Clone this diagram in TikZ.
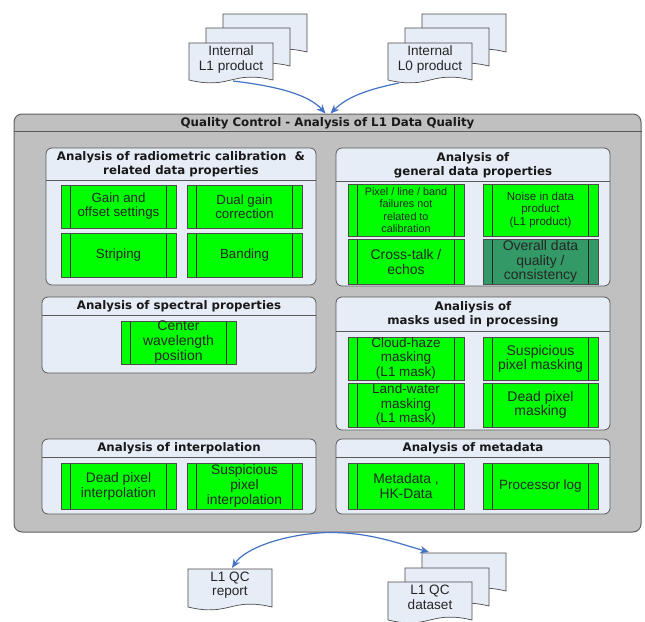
\documentclass[tikz,border=0pt]{standalone}
\usepackage{fontspec}
\setmainfont{Liberation Sans}
\newfontfamily\titlefont{DejaVu Sans}
\usetikzlibrary{arrows.meta}
\definecolor{qcgray}{RGB}{192,192,192}
\definecolor{paleblue}{RGB}{231,237,247}
\definecolor{qcgreen}{RGB}{0,255,0}
\definecolor{qcdark}{RGB}{51,153,102}
\definecolor{arrowblue}{RGB}{68,114,196}
\newcommand\boxsize[2]{\fontsize{#1}{#2}\selectfont}
\tikzset{
  qcframe/.style  = {draw=black!62, fill=qcgray, line width=1pt, rounded corners=8pt,
                     minimum width=627pt, minimum height=418pt, inner sep=0pt},
  panel/.style    = {draw=black!65, fill=paleblue, line width=0.8pt, rounded corners=6pt,
                     minimum width=274pt, inner sep=0pt},
  panelline/.style= {draw=black!65, line width=0.8pt},
  paneltitle/.style = {align=center, inner sep=0pt, text=black!90,
                       font=\titlefont\bfseries\boxsize{11.8}{14}},
  qcbox/.style    = {draw=black!70, fill=qcgreen, line width=0.7pt, inner sep=0pt,
                     minimum width=115pt, minimum height=43pt, align=center, text=black!85,
                     font=\boxsize{13.3}{14},
                     path picture={\draw [black!85, line width=0.7pt]
                       ([xshift=9.5pt]path picture bounding box.north west) -- ([xshift=9.5pt]path picture bounding box.south west)
                       ([xshift=-9.5pt]path picture bounding box.north east) -- ([xshift=-9.5pt]path picture bounding box.south east);}},
  docpage/.style  = {draw=black!70, fill=paleblue, line width=0.7pt},
  doctext/.style  = {align=center, inner sep=0pt, text=black!85, font=\boxsize{13.6}{14.5}},
  flow/.style     = {draw=arrowblue, line width=1.2pt, -{Stealth[length=9pt,width=7.5pt]}},
}
\begin{document}
\begin{tikzpicture}[x=1pt, y=-1pt]
        \fill [white] (0,0) rectangle (645,621);                                  %
        \useasboundingbox (0,0) rectangle (645,621);                              %
        % input products
        \draw [docpage] (223,14) -- (307,14) -- (307,52) .. controls (265,42) and (265,62) .. (223,52) -- cycle;
        \draw [docpage] (206,28) -- (290,28) -- (290,66) .. controls (248,56) and (248,76) .. (206,66) -- cycle;
        \draw [docpage] (189,43) -- (273,43) -- (273,80) .. controls (231,70) and (231,90) .. (189,80) -- cycle;
        \node [doctext] (l1prod) at (231,59.5) {Internal\\L1 product};           %
        \draw [docpage] (422,14) -- (506,14) -- (506,52) .. controls (464,42) and (464,62) .. (422,52) -- cycle;
        \draw [docpage] (405,28) -- (489,28) -- (489,66) .. controls (447,56) and (447,76) .. (405,66) -- cycle;
        \draw [docpage] (388,43) -- (472,43) -- (472,80) .. controls (430,70) and (430,90) .. (388,80) -- cycle;
        \node [doctext] (l0prod) at (430,59.5) {Internal\\L0 product};           %
        % QC frame
        \node [qcframe] (qc) at (327.5,323) {};                                   %
        \draw [panelline] ([yshift=-18pt]qc.north west) -- ([yshift=-18pt]qc.north east);
        \node [paneltitle] (qctitle) at (327.5,123) {Quality Control - Analysis of L1 Data Quality};
        % radiometric
        \node [panel, minimum width=270pt, minimum height=137pt] (radio) at (181,216.5) {};
        \draw [panelline] ([yshift=-33pt]radio.north west) -- ([yshift=-33pt]radio.north east);
        \node [paneltitle] (radiotitle) at (181,164) {Analysis of radiometric calibration~~\&\\related data properties};
        \node [qcbox] (gain)  at (118.5,206.5) {Gain and\\offset settings};       %
        \node [qcbox] (dual)  at (244.5,206.5) {Dual gain\\correction};           %
        \node [qcbox, minimum height=44pt] (strip) at (118.5,255) {Striping};     %
        \node [qcbox, minimum height=44pt] (band)  at (244.5,255) {Banding};      %
        % general
        \node [panel, minimum height=138pt] (general) at (473,217) {};            %
        \draw [panelline] ([yshift=-34pt]general.north west) -- ([yshift=-34pt]general.north east);
        \node [paneltitle] (gentitle) at (473,165) {Analysis of\\general data properties};
        \node [qcbox, minimum width=116pt, minimum height=52pt, font=\boxsize{10.8}{12.3}] (pixel) at (406,210)
              {Pixel / line / band\\failures not\\related to\\calibration};       %
        \node [qcbox, minimum height=52pt, font=\boxsize{11.5}{12.5}] (noise) at (540.5,210)
              {Noise in data\\product\\(L1 product)};                             %
        \node [qcbox, minimum width=116pt, minimum height=45pt, font=\boxsize{14}{15}] (cross) at (406,261.5)
              {Cross-talk /\\echos};                                              %
        \node [qcbox, fill=qcdark, minimum height=45pt, font=\boxsize{14}{14.5}] (overall) at (540.5,261.5)
              {Overall data\\quality /\\consistency};                             %
        % spectral
        \node [panel, minimum height=76pt] (spectral) at (179,335) {};           %
        \draw [panelline] ([yshift=-19pt]spectral.north west) -- ([yshift=-19pt]spectral.north east);
        \node [paneltitle] (spectitle) at (179,306.5) {Analysis of spectral properties};
        \node [qcbox, font=\boxsize{14}{15}] (centre) at (178.5,342.5) {Center\\wavelength\\position};
        % masks
        \node [panel, minimum height=133pt] (masks) at (473,363.5) {};           %
        \draw [panelline] ([yshift=-35pt]masks.north west) -- ([yshift=-35pt]masks.north east);
        \node [paneltitle] (masktitle) at (473,314.5) {Analiysis of\\masks used in processing};
        \node [qcbox, minimum width=116pt, font=\boxsize{13.5}{14.5}] (cloud) at (406,358.5)
              {Cloud-haze\\masking\\(L1 mask)};                                   %
        \node [qcbox, font=\boxsize{14}{14}] (suspmask) at (540.5,358.5) {Suspicious\\pixel masking};
        \node [qcbox, minimum width=116pt, minimum height=44pt, font=\boxsize{13.5}{14.5}] (land) at (406,405)
              {Land-water\\masking\\(L1 mask)};                                   %
        \node [qcbox, minimum height=44pt, font=\boxsize{14}{14}] (deadmask) at (540.5,405) {Dead pixel\\masking};
        % interpolation
        \node [panel, minimum height=75pt] (interp) at (179,476.5) {};           %
        \draw [panelline] ([yshift=-19pt]interp.north west) -- ([yshift=-19pt]interp.north east);
        \node [paneltitle] (interptitle) at (179,448.5) {Analysis of interpolation};
        \node [qcbox, minimum height=46pt, font=\boxsize{13.8}{15}] (deadint) at (118.5,486) {Dead pixel\\interpolation};
        \node [qcbox, minimum height=46pt, font=\boxsize{13.8}{15}] (suspint) at (244.5,486) {Suspicious\\pixel\\interpolation};
        % metadata
        \node [panel, minimum height=75pt] (meta) at (473,476.5) {};             %
        \draw [panelline] ([yshift=-19pt]meta.north west) -- ([yshift=-19pt]meta.north east);
        \node [paneltitle] (metatitle) at (473,448.5) {Analysis of metadata};    %
        \node [qcbox, minimum width=116pt, minimum height=46pt, font=\boxsize{13.8}{15}] (metadata) at (406,486) {Metadata ,\\HK-Data};
        \node [qcbox, minimum height=46pt, font=\boxsize{13.5}{15}] (proclog) at (540.5,486) {Processor log};
        % outputs
        \draw [docpage] (188,569) -- (272,569) -- (272,607) .. controls (230,597) and (230,617) .. (188,607) -- cycle;
        \node [doctext] (qcrep) at (230,585) {L1 QC\\report};                     %
        \draw [docpage] (422,553) -- (506,553) -- (506,591) .. controls (464,581) and (464,601) .. (422,591) -- cycle;
        \draw [docpage] (405,568) -- (489,568) -- (489,606) .. controls (447,596) and (447,616) .. (405,606) -- cycle;
        \draw [docpage] (388,582) -- (472,582) -- (472,620) .. controls (430,610) and (430,630) .. (388,620) -- cycle;
        \node [doctext] (qcdata) at (430,597.5) {L1 QC\\dataset};                 %
        % flows
        \coordinate (l1out)  at (233,81);                                         %
        \coordinate (l0out)  at (399,83);                                         %
        \coordinate (repin)  at (232,568);                                        %
        \coordinate (datain) at (429,552);                                        %
        \draw [flow] (l1out) .. controls (275,86) and (308,94) .. ([xshift=-2pt]qc.north);
        \draw [flow] (l0out) .. controls (370,89) and (348,96) .. ([xshift=3pt]qc.north);
        \draw [flow] (qc.south) .. controls (285,534) and (245,548) .. (repin);   %
        \draw [flow] (qc.south) .. controls (370,532) and (400,544) .. (datain);  %
\end{tikzpicture}
\end{document}
